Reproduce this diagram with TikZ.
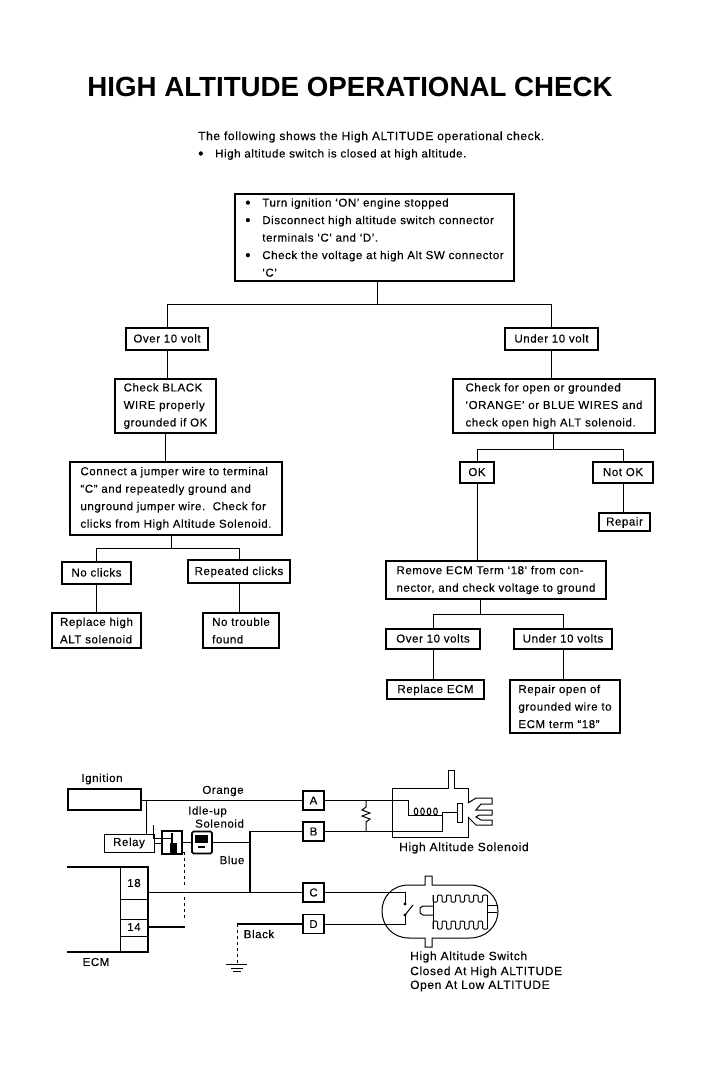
\documentclass[tikz,border=0pt]{standalone}
\usepackage{fontspec}
\setmainfont[LetterSpace=5,FakeBold=.25]{Liberation Sans}
\newfontfamily\TitleFont{Liberation Sans}
\usetikzlibrary{decorations.pathmorphing}
\newcommand{\BigDot}{\makebox[17pt][l]{\raisebox{-1pt}{\fontsize{15}{15}\selectfont\textbullet}}}
\tikzstyle{Box}=[draw,line width=1.2pt,inner sep=0pt,font=\fontsize{11.5}{17.5}\selectfont,align=left,execute at begin node=\strut]
\tikzstyle{Multi}=[draw,line width=1.2pt,inner sep=0pt,font=\fontsize{11.5}{17.5}\selectfont,align=left,execute at begin node=\rule{0pt}{12pt}]
\tikzstyle{Edge}=[draw,line width=1pt]
\tikzstyle{Wire}=[draw,line width=1.6pt]
\tikzstyle{Thin}=[draw,line width=.8pt]
\tikzstyle{Pin}=[draw,line width=1.1pt,inner sep=0pt,minimum width=21pt,minimum height=19pt,font=\fontsize{11.5}{12}\selectfont]
\tikzstyle{Txt}=[inner sep=0pt,font=\fontsize{11.5}{15}\selectfont,align=left]
\tikzstyle{Cap}=[inner sep=0pt,anchor=west,font=\fontsize{12}{15}\selectfont,align=left]
\begin{document}
\begin{tikzpicture}[x=1pt,y=-1pt]
    \useasboundingbox(0,0)rectangle(714,1073);
    \node[inner sep=0pt,font=\fontsize{27.7}{30}\TitleFont\bfseries](Title)at(350,87){HIGH ALTITUDE OPERATIONAL CHECK};
    \node[Cap](Intro)at(198,137){The following shows the High ALTITUDE operational check.};
    \node[Txt,anchor=west](Note)at(198,154.5){\BigDot High altitude switch is closed at high altitude.};
    \node[Multi,minimum width=279pt,minimum height=87pt](Top)at(374.5,237.5)
        {\BigDot Turn ignition ‘ON’ engine stopped\\
         \BigDot Disconnect high altitude switch connector\\
         \hspace{17pt}terminals ‘C’ and ‘D’.\\
         \BigDot Check the voltage at high Alt SW connector\\
         \hspace{17pt}‘C’};
    \node[Box,minimum width=82pt,minimum height=22pt](Over)at(167,339){Over 10 volt};
    \node[Box,minimum width=93pt,minimum height=22pt](Under)at(551.5,339){Under 10 volt};
    \node[Multi,minimum width=101pt,minimum height=54pt](Black)at(165.5,406){Check BLACK\\WIRE properly\\grounded if OK};
    \node[Multi,minimum width=202pt,minimum height=54pt](Open)at(554,406){Check for open or grounded\\‘ORANGE’ or BLUE WIRES and\\check open high ALT solenoid.};
    \node[Multi,minimum width=212pt,minimum height=73pt](Jumper)at(176,498.5){Connect a jumper wire to terminal\\“C” and repeatedly ground and\\unground jumper wire.\ \ Check for\\clicks from High Altitude Solenoid.};
    \node[Box,minimum width=34pt,minimum height=21pt](Ok)at(477,472.5){OK};
    \node[Box,minimum width=60pt,minimum height=21pt](NotOk)at(623,472.5){Not OK};
    \node[Box,minimum width=51pt,minimum height=18pt](Repair)at(624.5,522){Repair};
    \node[Box,minimum width=69pt,minimum height=22pt](NoClicks)at(96.5,573){No clicks};
    \node[Box,minimum width=102pt,minimum height=23pt](Clicks)at(239,571.5){Repeated clicks};
    \node[Multi,minimum width=89pt,minimum height=35pt](ReplaceAlt)at(96.5,630.5){Replace high\\ALT solenoid};
    \node[Multi,minimum width=76pt,minimum height=35pt](NoTrouble)at(241,630.5){No trouble\\found};
    \node[Multi,minimum width=220pt,minimum height=38pt](Ecm)at(496,580){Remove ECM Term ‘18’ from con-\\nector, and check voltage to ground};
    \node[Box,minimum width=94pt,minimum height=20pt](Over2)at(433,639){Over 10 volts};
    \node[Box,minimum width=98pt,minimum height=20pt](Under2)at(563,639){Under 10 volts};
    \node[Box,minimum width=97pt,minimum height=19pt](ReplaceEcm)at(435.5,689.5){Replace ECM};
    \node[Multi,minimum width=110pt,minimum height=53pt](RepairEcm)at(565,706.5){Repair open of\\grounded wire to\\ECM term “18”};
    \coordinate(J1)at(377,304);
    \coordinate(J2)at(171,548);
    \coordinate(J3)at(553,449);
    \coordinate(J4)at(480,614);
    \draw[Edge](J1|-Top.south)--(J1);
    \draw[Edge](Over.north)|-(J1);
    \draw[Edge](Under.north)|-(J1);
    \draw[Edge](Over.south)--(Over.south|-Black.north);
    \draw[Edge](Black.south)--(Black.south|-Jumper.north);
    \draw[Edge](J2|-Jumper.south)--(J2);
    \draw[Edge](NoClicks.north)|-(J2);
    \draw[Edge](Clicks.north)|-(J2);
    \draw[Edge](NoClicks.south)--(ReplaceAlt.north);
    \draw[Edge](Clicks.south)--(Clicks.south|-NoTrouble.north);
    \draw[Edge](Under.south)--(Under.south|-Open.north);
    \draw[Edge](J3|-Open.south)--(J3);
    \draw[Edge](Ok.north)|-(J3);
    \draw[Edge](NotOk.north)|-(J3);
    \draw[Edge](NotOk.south)--(NotOk.south|-Repair.north);
    \draw[Edge](Ok.south)--(Ok.south|-Ecm.north);
    \draw[Edge](J4|-Ecm.south)--(J4);
    \draw[Edge](Over2.north)|-(J4);
    \draw[Edge](Under2.north)|-(J4);
    \draw[Edge](Over2.south)--(Over2.south|-ReplaceEcm.north);
    \draw[Edge](Under2.south)--(Under2.south|-RepairEcm.north);
    \node[Edge,line width=1.2pt,minimum width=73pt,minimum height=21pt,inner sep=0pt](Ign)at(104.5,799.5){};
    \node[Txt](IgnT)at(102,779){Ignition};
    \node[Pin](A)at(313.5,800.5){A};
    \node[Pin](B)at(313.5,831.5){B};
    \node[Pin](C)at(313.5,892.5){C};
    \node[Pin](D)at(313.5,924){D};
    \node[Txt](OrangeT)at(223,791){Orange};
    \node[Txt,anchor=west,font=\fontsize{11.5}{13}\selectfont](IdleT)at(188,817){Idle-up\\\hspace{7pt}Solenoid};
    \node[Txt](BlueT)at(232,860){Blue};
    \node[Txt](BlackT)at(259,934){Black};
    \node[Txt](EcmT)at(96,962){ECM};
    \node[Edge,minimum width=50pt,minimum height=18pt,inner sep=0pt,font=\fontsize{11.5}{12}\selectfont](Relay)at(129,843){Relay};
    \node[Edge,line width=1.2pt,minimum width=20pt,minimum height=23pt,inner sep=0pt](Dev)at(172,842.5){};
    \node[draw,line width=1.6pt,rounded corners=1.5pt,minimum width=20pt,minimum height=22pt,inner sep=0pt](Idle)at(202,842.5){};
    \fill(195,835)rectangle(208,843);
    \fill(198,846)rectangle(205,848);
    \draw[Wire](172,833)--(172,852);
    \fill(170,843)rectangle(177,853);
    \coordinate(RelayUp)at(146,800.5);
    \coordinate(RelayHop)at(153,825);
    \coordinate(Gnd)at(237,964);
    \coordinate(DEnd)at(237,924);
    \coordinate(J5)at(250,892.5);
    \coordinate(J6)at(250,842.5);
    \coordinate(EcmR)at(148,892.5);
    \coordinate(EcmR2)at(148,927);
    \coordinate(Tap)at(185,927);
    \draw[Edge](Ign.east|-A)--(A);
    \draw[Edge](RelayUp)--(RelayUp|-Relay.north);
    \draw[Thin](RelayHop)--(153,838)--(172,838);
    \draw[Thin](Relay.east)--(Relay.east-|Dev.west);
    \draw[Thin](Dev.east)--(Idle.west);
    \draw[Wire](Idle.east)--(J6);
    \draw[Wire](J6)|-(B);
    \draw[Wire](J6)--(J5);
    \draw[Wire](EcmR)--(C);
    \draw[Wire](EcmR2)--(Tap);
    \draw[Thin](182,852)--(185,852);
    \draw[Thin,dashed](184,852)--(184,888);
    \draw[Thin,dashed](184,897)--(184,921);
    \draw[Wire](DEnd)--(D);
    \draw[Thin,dashed](DEnd)--(Gnd);
    \draw[Thin](226,964)--(247,964);
    \draw[Edge](231,968)--(243,968);
    \draw[Wire](233,971.5)--(241,971.5);
    \draw[Wire](67,867)--(148,867)--(148,952)--(67,952);
    \draw[Edge](120,867)--(120,952);
    \draw[Edge](120,899)--(148,899);
    \draw[Edge](120,919)--(148,919);
    \draw[Edge](120,936)--(148,936);
    \node[Txt](N18)at(134,883){18};
    \node[Txt](N14)at(134,927){14};
    % solenoid
    \draw[Edge](A.east)--(408,800.5)--(408,815)--(442,815)--(442,812.5)--(457,812.5);
    \draw[Edge](B.east)--(442,831.5)--(442,813);
    \draw[Edge](366,800.5)--(366,807)--(362,810)--(370,813)--(362,816)--(370,819)--(366,822)--(366,831.5);
    \foreach\k in{416,422.5,429,435.5}{\draw[Edge](\k,811.5)ellipse(1.8pt and 3.5pt);}
    \draw[Thin,fill=white](457,803)rectangle(462,822);
    \draw[Edge](468,803)--(468,788)--(454,788)--(454,770)--(448,770)--(448,788)--(392,788)--(392,837)--(468,837)--(468,817);
    \draw[Edge](468,803)--(476,798)--(492,798)--(492,804)--(481,804)--(476,810)--(492,810)--(492,815)--(479,815)--(476,817)--(481,820)--(492,820)--(492,825)--(476,825)--(468,817);
    \node[Cap](SolT)at(399,848){High Altitude Solenoid};
    % switch
    \draw[Edge](C.east)--(405,892.5)--(405,903);
    \draw[Edge](D.east)--(405,924)--(405,915);
    \draw[Edge](405,915)--(413,905);
    \fill(405,904)circle(1.6pt);
    \fill(405,915)circle(1.6pt);
    \draw[Edge](425,885)--(409,885)..controls(392,885)and(382,897)..(382,911)..controls(382,926)and(393,938)..(409,938)--(425,938)--(425,947)--(432,947)--(432,938)--(470,938)..controls(486,938)and(498,926)..(498,911)..controls(498,897)and(486,885)..(470,885)--(432,885)--(432,876)--(425,876)--cycle;
    \draw[Edge](433,895)--(433,929);
    \draw[Edge](487,895)--(487,929);
    \draw[Edge,rounded corners=1pt](433,895)foreach\k in{0,1,2,3,4,5}{--(433+\k*9,902)--(433+\k*9+4.5,902)--(433+\k*9+4.5,895)--(433+\k*9+9,895)};
    \draw[Edge,rounded corners=1pt](433,929)foreach\k in{0,1,2,3,4,5}{--(433+\k*9,921)--(433+\k*9+4.5,921)--(433+\k*9+4.5,929)--(433+\k*9+9,929)};
    \draw[Edge](433,906)--(423,906)--(420,908)--(420,913)--(423,915)--(433,915);
    \draw[Edge](487,905)--(497,905);
    \draw[Edge](487,912)--(497,912);
    \node[Cap](SwT)at(410,957){High Altitude Switch};
    \node[Cap](SwT2)at(410,972){Closed At High ALTITUDE};
    \node[Cap](SwT3)at(410,986){Open At Low ALTITUDE};
\end{tikzpicture}
\end{document}
